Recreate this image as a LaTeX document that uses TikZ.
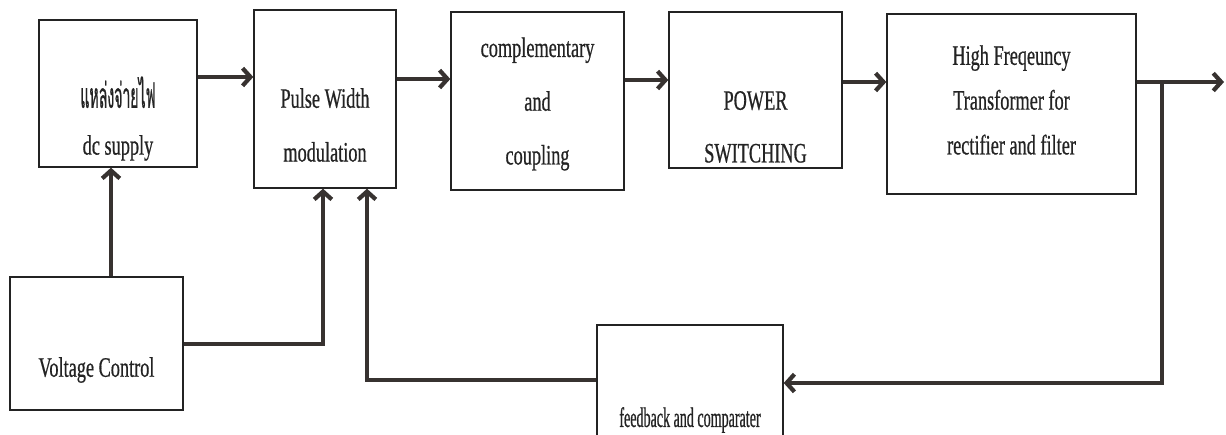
\documentclass[tikz,border=0pt]{standalone}
\usepackage{fontspec}
\setmainfont{Liberation Serif}[FakeStretch=0.65, FakeBold=0.6]
\newfontfamily\narrowfont{Liberation Serif}[FakeStretch=0.5, FakeBold=0.6]
\newfontfamily\thaifont[Script=Thai, FakeStretch=0.4, Scale=1.25, FakeBold=0.6]{Loma}
\usepackage{xcolor}
\usepackage{tikz}
\usetikzlibrary{arrows.meta, positioning}
\definecolor{ink}{RGB}{35,35,35}
\definecolor{wirebrown}{RGB}{55,50,48}

\begin{document}
\begin{tikzpicture}[
  x=0.02cm, y=-0.02cm,
  block/.style={rectangle, draw=ink, line width=0.8pt, inner sep=0pt},
  lbl/.style={font=\fontsize{16}{#1}\selectfont, align=center, text=ink},
  wire/.style={line width=2.4pt, draw=wirebrown},
  flow/.style={wire, -{Straight Barb[length=4.5pt, width=10pt]}}
]
  \useasboundingbox (0,0) rectangle (1226,434);
  \clip (0,0) rectangle (1226,434);

  % forward chain
  \node[block, minimum width=3.16cm, minimum height=2.94cm,
    label={[lbl=26.6pt, yshift=-0.5cm]center:{{\thaifont แหล่งจ่ายไฟ}\\dc supply}}]
    (supply) at (118,93.5) {};
  \node[block, minimum width=2.84cm, minimum height=3.56cm,
    label={[lbl=30.6pt, yshift=-0.52cm]center:{Pulse Width\\modulation}}]
    (pwm) at (325,99) {};
  \node[block, minimum width=3.46cm, minimum height=3.56cm,
    label={[lbl=30.6pt, yshift=-0.06cm]center:{complementary\\and\\coupling}}]
    (comp) at (537.5,101) {};
  \node[block, minimum width=3.46cm, minimum height=3.12cm,
    label={[lbl=30pt, yshift=-0.74cm]center:{POWER\\SWITCHING}}]
    (power) at (755.5,90) {};
  \node[block, minimum width=4.98cm, minimum height=3.60cm,
    label={[lbl=25.5pt, yshift=0.08cm]center:{High Freqeuncy\\Transformer for\\rectifier and filter}}]
    (hf) at (1011.5,104) {};

  % control and feedback
  \node[block, minimum width=3.46cm, minimum height=2.66cm,
    label={[lbl=19pt, yshift=-0.53cm]center:{Voltage Control}}]
    (vc) at (96.5,343.5) {};
  \node[block, minimum width=3.72cm, minimum height=3.8cm,
    label={[lbl=19pt]center:{\narrowfont feedback and comparater}}]
    (fb) at (690,420) {};

  \coordinate (tap) at (1162,82);
  \coordinate (out) at (1224,82);

  \draw[flow] (supply.east |- 0,77) -- (pwm.west |- 0,77);
  \draw[flow] (pwm.east |- 0,79) -- (comp.west |- 0,79);
  \draw[flow] (comp.east |- 0,80) -- (power.west |- 0,80);
  \draw[flow] (power.east |- 0,82) -- (hf.west |- 0,82);
  \draw[flow] (hf.east |- 0,82) -- (out);

  \draw[flow] (tap) |- (fb.east |- 0,383);
  \draw[flow] (fb.west |- 0,380) -| (pwm.south -| 367,0);
  \draw[flow] (vc.east |- 0,344) -| (pwm.south -| 323,0);
  \draw[flow] (vc.north -| 111,0) -- (supply.south -| 111,0);
\end{tikzpicture}
\end{document}
